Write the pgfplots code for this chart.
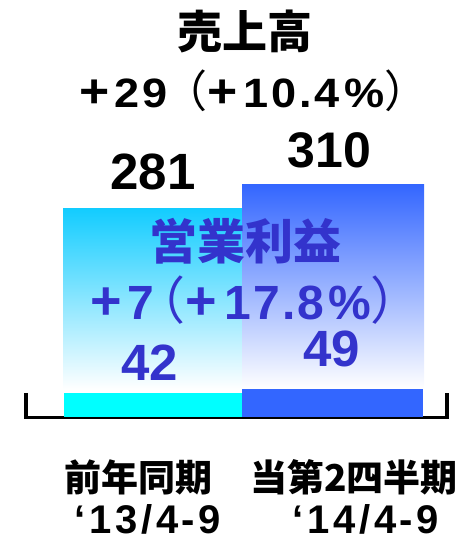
\documentclass[border=0pt]{standalone}
\usepackage{fontspec}
\usepackage{pgfplots}
\pgfplotsset{compat=1.18}
\newfontfamily\jp{Noto Sans CJK JP}
\newfontfamily\num{Liberation Sans}
\newfontfamily\numA{Liberation Sans}[LetterSpace=7,FakeStretch=1.1]
\newfontfamily\numB{Liberation Sans}[LetterSpace=4]
\newfontfamily\numC{Liberation Sans}[LetterSpace=9]
\definecolor{cyanbar}{HTML}{00FFFF}
\definecolor{bluebar}{HTML}{3366FF}
\definecolor{cyantop}{HTML}{12CCFF}
\definecolor{bluetop}{HTML}{3366FF}
\definecolor{optext}{HTML}{3333CC}
% white in the lower part of the bar, fading to the colour at the top
\pgfdeclareverticalshading{cyanfade}{100bp}{color(0bp)=(white); color(36bp)=(white); color(75bp)=(cyantop); color(100bp)=(cyantop)}
\pgfdeclareverticalshading{bluefade}{100bp}{color(0bp)=(white); color(35bp)=(white); color(75bp)=(bluetop); color(100bp)=(bluetop)}
\newcommand\bigplus[1]{{\fontsize{#1}{#1}\selectfont +}}
\newcommand\lp[1]{{\jp\mdseries\fontsize{#1}{#1}\selectfont （}}
\newcommand\rp[1]{{\jp\mdseries\fontsize{#1}{#1}\selectfont ）}}

\begin{document}
\begin{tikzpicture}[every node/.style={inner sep=0pt}]
\useasboundingbox (0,0) rectangle (470pt,538pt);
% sales (売上高)
\begin{axis}[at={(0,0)},anchor=south west,scale only axis,width=470pt,height=538pt,
  xmin=0,xmax=470,ymin=-117.8,ymax=532.4,hide axis,clip=false]
\addplot[ybar,bar width=179,bar shift=0pt,draw=none,shading=cyanfade] coordinates {(152.5,281)};
\addplot[ybar,bar width=182,bar shift=0pt,draw=none,shading=bluefade] coordinates {(333,310)};
\end{axis}
% bracket
\draw[line width=3.5pt,line cap=butt,line join=miter] (26pt,145pt) -- (26pt,120.7pt) -- (447pt,120.7pt) -- (447pt,145pt);
% operating profit (営業利益)
\begin{axis}[at={(0,0)},anchor=south west,scale only axis,width=470pt,height=538pt,
  xmin=0,xmax=470,ymin=-211.75,ymax=729.75,hide axis,clip=false]
\addplot[ybar,bar width=178,bar shift=0pt,draw=none,fill=cyanbar] coordinates {(153,42)};
\addplot[ybar,bar width=181,bar shift=0pt,draw=none,fill=bluebar] coordinates {(332.5,49)};
\end{axis}
% labels
\node[font=\jp\bfseries\fontsize{45}{45}\selectfont] at (244.5pt,507pt) {売上高};
\node[font=\numA\bfseries\fontsize{41}{41}\selectfont] at (254pt,447pt)
  {\bigplus{47}\hspace{5pt}29\hspace{-4pt}\lp{44}\bigplus{47}\hspace{6pt}10.4\hspace{5pt}\%\rp{44}\hspace{-20pt}};
\node[font=\num\bfseries\fontsize{51}{51}\selectfont] at (153pt,366pt) {281};
\node[font=\num\bfseries\fontsize{50}{50}\selectfont] at (329.5pt,388pt) {310};
\node[text=optext,font=\jp\bfseries\fontsize{48}{48}\selectfont] at (245pt,296.5pt) {営業利益};
\node[text=optext,font=\numB\bfseries\fontsize{48}{48}\selectfont] at (256pt,238pt)
  {\bigplus{54}\hspace{6pt}7\hspace{-20pt}\lp{51}\bigplus{54}\hspace{8pt}17.8\hspace{4pt}\%\rp{51}\hspace{-24pt}};
\node[text=optext,font=\num\bfseries\fontsize{51}{51}\selectfont] at (149.5pt,175pt) {42};
\node[text=optext,font=\num\bfseries\fontsize{51}{51}\selectfont] at (332pt,189pt) {49};
\node[font=\jp\bfseries\fontsize{37}{37}\selectfont] at (138pt,61pt) {前年同期};
\node[font=\jp\bfseries\fontsize{37}{37}\selectfont] at (354pt,61pt) {当第2四半期};
\node[font=\numC\bfseries\fontsize{40}{40}\selectfont] at (148pt,19pt) {‘13/4-9};
\node[font=\numC\bfseries\fontsize{40}{40}\selectfont] at (366pt,19pt) {‘14/4-9};
\end{tikzpicture}
\end{document}
